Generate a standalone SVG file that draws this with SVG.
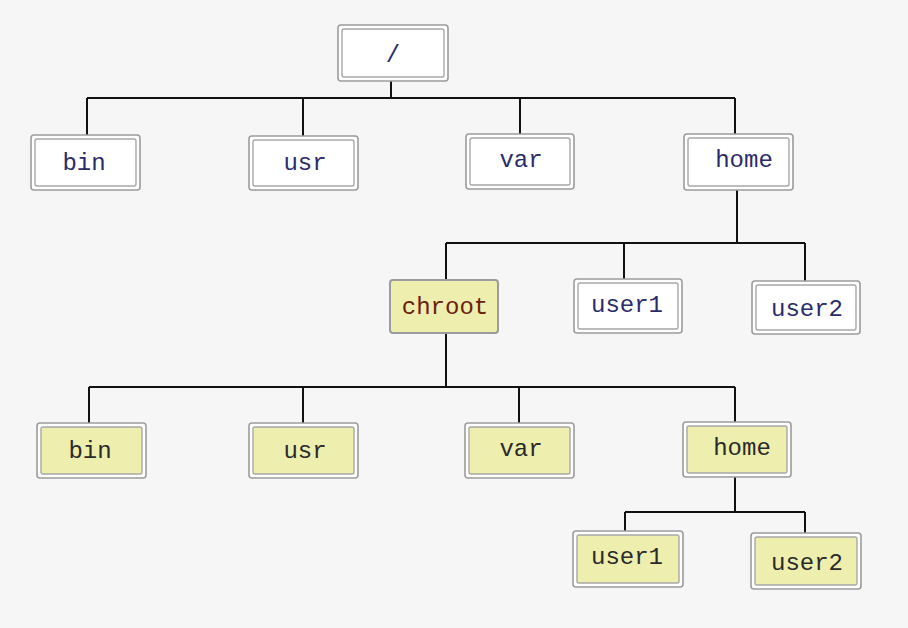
<svg xmlns="http://www.w3.org/2000/svg" width="908" height="628" viewBox="0 0 908 628">
<style>
.o{fill:#fff;stroke:#9c9c9c;stroke-width:1.6}
.i{fill:#fff;stroke:#a8a8a8;stroke-width:1.4}
.y .i{fill:#eeeeae}
.t{font-family:"Liberation Mono","DejaVu Sans Mono",monospace;font-size:24px;fill:#2b2b6b;text-anchor:middle}
.y .t{fill:#2a2a2a}
.c{fill:none;stroke:#111;stroke-width:2}
</style>
<rect x="0" y="0" width="908" height="628" fill="#f6f6f6"/>
<g id="connectors" class="c">
<path d="M391 81V98M87 98H735M87 98V135M303 98V136M520 98V134M735 98V134"/>
<path d="M737 190V243M446 243H805M446 243V280M624 243V279M805 243V281"/>
<path d="M446 333V387M89 387H735M89 387V423M303 387V423M519 387V423M735 387V422"/>
<path d="M735 477V512M625 512H805M625 512V531M805 512V533"/>
</g>
<g id="root"><rect class="o" x="338" y="25" width="110" height="56" rx="3"/><rect class="i" x="342" y="29" width="102" height="48" rx="2"/><text class="t" x="393" y="62">/</text></g>
<g id="bin1"><rect class="o" x="31" y="135" width="109" height="55" rx="3"/><rect class="i" x="35" y="139" width="101" height="47" rx="2"/><text class="t" x="84" y="170">bin</text></g>
<g id="usr1"><rect class="o" x="249" y="136" width="109" height="54" rx="3"/><rect class="i" x="253" y="140" width="101" height="46" rx="2"/><text class="t" x="305" y="170">usr</text></g>
<g id="var1"><rect class="o" x="466" y="134" width="108" height="55" rx="3"/><rect class="i" x="470" y="138" width="100" height="47" rx="2"/><text class="t" x="521" y="167">var</text></g>
<g id="home1"><rect class="o" x="684" y="134" width="109" height="56" rx="3"/><rect class="i" x="688" y="138" width="101" height="48" rx="2"/><text class="t" x="744" y="167">home</text></g>
<g id="chroot"><rect x="390" y="280" width="108" height="53" rx="3" fill="#eeeeae" stroke="#9c9c9c" stroke-width="2"/><text class="t" x="445" y="314" style="fill:#6a200e">chroot</text></g>
<g id="user1a"><rect class="o" x="574" y="279" width="108" height="54" rx="3"/><rect class="i" x="578" y="283" width="100" height="46" rx="2"/><text class="t" x="627" y="312">user1</text></g>
<g id="user2a"><rect class="o" x="752" y="281" width="108" height="53" rx="3"/><rect class="i" x="756" y="285" width="100" height="45" rx="2"/><text class="t" x="807" y="316">user2</text></g>
<g id="bin2" class="y"><rect class="o" x="37" y="423" width="109" height="55" rx="3"/><rect class="i" x="41" y="427" width="101" height="47" rx="2"/><text class="t" x="90" y="458">bin</text></g>
<g id="usr2" class="y"><rect class="o" x="249" y="423" width="109" height="55" rx="3"/><rect class="i" x="253" y="427" width="101" height="47" rx="2"/><text class="t" x="305" y="458">usr</text></g>
<g id="var2" class="y"><rect class="o" x="465" y="423" width="109" height="55" rx="3"/><rect class="i" x="469" y="427" width="101" height="47" rx="2"/><text class="t" x="521" y="456">var</text></g>
<g id="home2" class="y"><rect class="o" x="683" y="422" width="108" height="55" rx="3"/><rect class="i" x="687" y="426" width="100" height="47" rx="2"/><text class="t" x="742" y="455">home</text></g>
<g id="user1b" class="y"><rect class="o" x="573" y="531" width="110" height="56" rx="3"/><rect class="i" x="577" y="535" width="102" height="48" rx="2"/><text class="t" x="627" y="564">user1</text></g>
<g id="user2b" class="y"><rect class="o" x="751" y="533" width="110" height="56" rx="3"/><rect class="i" x="755" y="537" width="102" height="48" rx="2"/><text class="t" x="807" y="570">user2</text></g>
</svg>
